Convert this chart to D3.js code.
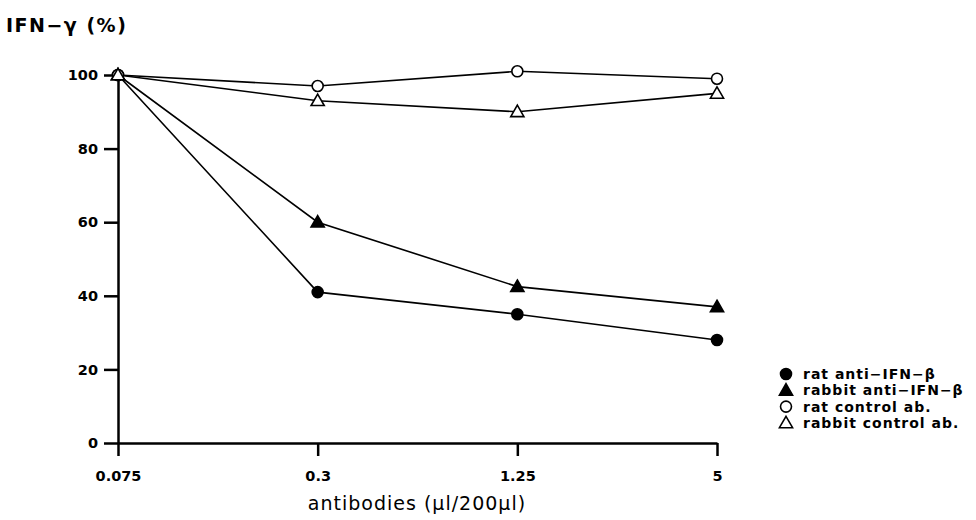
<!DOCTYPE html>
<html>
<head>
<meta charset="utf-8">
<script src="https://cdn.jsdelivr.net/npm/d3@7"></script>
<style>
  html, body { margin: 0; padding: 0; background: #fff; }
  svg { display: block; }
  text { font-family: "DejaVu Sans", sans-serif; font-weight: 700; fill: #000; }
</style>
</head>
<body>
<svg id="chart" width="976" height="520"></svg>
<script>
const categories = ["0.075", "0.3", "1.25", "5"];
const ratAnti = [100, 41, 35, 28];
const rabbitAnti = [100, 60, 42.5, 37];
const ratControl = [100, 97, 101, 99];
const rabbitControl = [100, 93, 90, 95];
const yTicks = [0, 20, 40, 60, 80, 100];
const seriesNames = ["rat anti\u2212IFN\u2212\u03b2", "rabbit anti\u2212IFN\u2212\u03b2", "rat control ab.", "rabbit control ab."];

const series = [
  { name: seriesNames[0], values: ratAnti, shape: "circle", filled: true },
  { name: seriesNames[1], values: rabbitAnti, shape: "triangle", filled: true },
  { name: seriesNames[2], values: ratControl, shape: "circle", filled: false },
  { name: seriesNames[3], values: rabbitControl, shape: "triangle", filled: false }
];

const svg = d3.select("#chart");
const x = d3.scalePoint().domain(categories).range([118, 717]);
const y = d3.scaleLinear().domain([0, 100]).range([443, 75]);

// axes
const xAxis = svg.append("g").attr("transform", "translate(0,443)")
  .call(d3.axisBottom(x).tickSize(13).tickPadding(12).tickSizeOuter(0));
const yAxis = svg.append("g").attr("transform", "translate(118,0)")
  .call(d3.axisLeft(y).tickValues(yTicks).tickSize(14).tickPadding(6).tickSizeOuter(0));
[xAxis, yAxis].forEach(g => {
  g.select(".domain").attr("stroke", "#000").attr("stroke-width", 2.5);
  g.selectAll(".tick line").attr("stroke", "#000").attr("stroke-width", 2.5);
  g.selectAll(".tick text").style("font-size", "14.5px").style("font-family", "DejaVu Sans").style("font-weight", "700");
});
xAxis.selectAll(".tick text").attr("dy", "0.9em");

// titles
svg.append("text").attr("x", 6).attr("y", 32).style("font-size", "19px").style("letter-spacing", "1.5px")
  .text("IFN\u2212\u03b3 (%)");
svg.append("text").attr("x", 417).attr("y", 510).attr("text-anchor", "middle")
  .style("font-size", "19px").style("font-weight", "400").style("letter-spacing", "1px")
  .text("antibodies (\u00b5l/200\u00b5l)");

const line = d3.line().x((d, i) => x(categories[i])).y(d => y(d));
const tri = d3.symbol().type(d3.symbolTriangle).size(75);

function marker(g, s, cx, cy) {
  if (s.shape === "circle") {
    g.append("circle").attr("cx", cx).attr("cy", cy).attr("r", 5.5)
      .attr("fill", s.filled ? "#000" : "#fff").attr("stroke", "#000").attr("stroke-width", 1.6);
  } else {
    g.append("path").attr("d", tri).attr("transform", `translate(${cx},${cy + 1})`)
      .attr("fill", s.filled ? "#000" : "#fff").attr("stroke", "#000").attr("stroke-width", 1.6);
  }
}

series.forEach(s => {
  svg.append("path").datum(s.values).attr("d", line)
    .attr("fill", "none").attr("stroke", "#000").attr("stroke-width", 1.6);
});
series.forEach(s => {
  const g = svg.append("g");
  s.values.forEach((v, i) => marker(g, s, x(categories[i]), y(v)));
});

// legend
const legend = svg.append("g");
series.forEach((s, i) => {
  const ly = 374 + i * 16.3;
  marker(legend, s, 786, ly);
  legend.append("text").attr("x", 803).attr("y", ly).attr("dy", "0.35em")
    .style("font-size", "14px").style("letter-spacing", "1px").text(s.name);
});
</script>
</body>
</html>
